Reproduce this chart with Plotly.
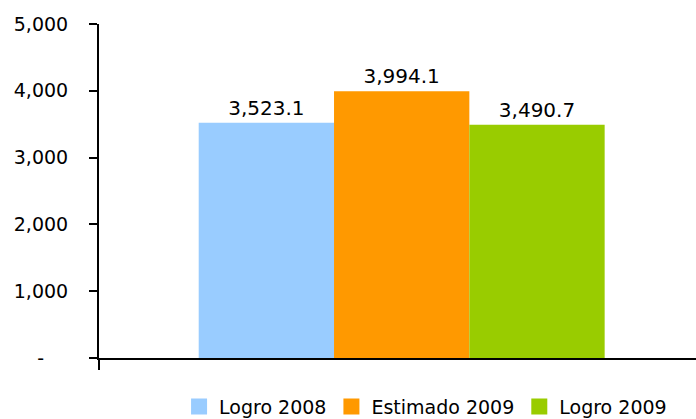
import plotly.graph_objects as go

series = ["Logro 2008", "Estimado 2009", "Logro 2009"]
values = [3523.1, 3994.1, 3490.7]
colors = ["#99CCFF", "#FF9900", "#99CC00"]
bar_x = [0]

tick_vals = [0, 1000, 2000, 3000, 4000, 5000]
tick_text = ["-" + "\u00a0" * 4, "1,000", "2,000", "3,000", "4,000", "5,000"]

FONT = "DejaVu Sans"
x_range = [-0.507, 0.493]

fig = go.Figure()
for name, val, col in zip(series, values, colors):
    fig.add_trace(go.Bar(
        x=bar_x, y=[val], name=name, showlegend=False,
        marker=dict(color=col, line_width=0),
        texttemplate="%{y:,.1f}", textposition="outside",
        textfont=dict(family=FONT, size=20, color="black"),
        cliponaxis=False,
    ))

# legend entries with bigger square swatches
for name, col in zip(series, colors):
    fig.add_trace(go.Scatter(
        x=bar_x, y=[None], name=name, mode="markers",
        marker=dict(symbol="square", size=16, color=col),
    ))

fig.update_layout(
    barmode="group", bargap=0.32, bargroupgap=0,
    width=696, height=419,
    margin=dict(l=99, r=0, t=24, b=61, autoexpand=False),
    plot_bgcolor="white", paper_bgcolor="white",
    font=dict(family=FONT, size=19, color="black"),
    legend=dict(
        orientation="h", x=0.547, xanchor="center", y=-0.146, yanchor="middle",
        font=dict(family=FONT, size=19, color="black"),
        itemwidth=30, traceorder="normal",
    ),
    xaxis=dict(
        range=x_range, tickvals=[x_range[0]],
        showline=True, linecolor="black", linewidth=2,
        ticks="outside", ticklen=10, tickwidth=2, tickcolor="black",
        showticklabels=False, showgrid=False, zeroline=False,
    ),
    yaxis=dict(
        range=[0, 5000], tickvals=tick_vals, ticktext=tick_text,
        showline=True, linecolor="black", linewidth=2,
        ticks="outside", ticklen=8, tickwidth=2, tickcolor="black",
        ticklabelstandoff=17,
        showgrid=False, zeroline=False,
        tickfont=dict(family=FONT, size=19, color="black"),
    ),
)

fig.write_html("out.html", config={"displayModeBar": False},
               post_script="document.body.style.margin='0';")
